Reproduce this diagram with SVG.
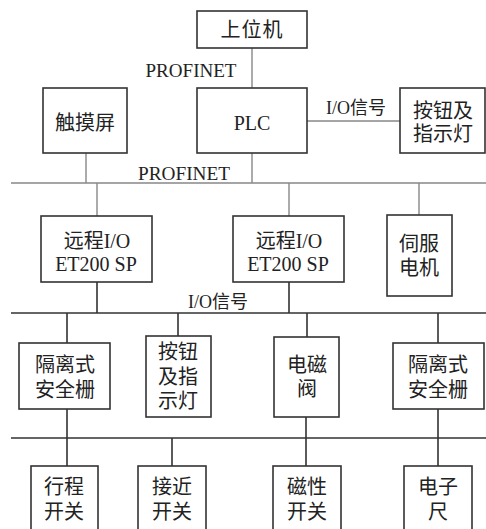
<svg xmlns="http://www.w3.org/2000/svg" width="486" height="529" viewBox="0 0 486 529">
<style>
.box{fill:#fff;stroke:#333;stroke-width:1.6}
.t{font-family:"Liberation Serif","Noto Sans CJK SC",serif;font-size:20px;fill:#222;text-anchor:middle;dominant-baseline:central}
.lbl{font-family:"Liberation Serif","Noto Sans CJK SC",serif;font-size:19px;fill:#222;text-anchor:middle;dominant-baseline:central}
.io{font-family:"Liberation Serif","Noto Sans CJK SC",serif;font-size:18px;fill:#222;text-anchor:middle;dominant-baseline:central}
.g{stroke:#888;stroke-width:1.4;fill:none}
.d{stroke:#333;stroke-width:1.6;fill:none}
</style>
<rect width="486" height="529" fill="#fff"/>
<g id="connectors">
<path class="g" d="M252 48V88M252 153V183M86 153V183M307 121H400M11 183H486M97 183V216M289 183V216M419 183V215"/>
<path class="d" d="M97 282V313M289 282V313M11 313H486M67 313V343M178 313V336M307 313V337M438 313V343"/>
<path class="d" d="M11 438H486M67 409V466M172 438V466M306 417V466M438 409V466"/>
</g>
<g id="labels">
<text class="lbl" x="191" y="70" textLength="91" lengthAdjust="spacingAndGlyphs">PROFINET</text>
<text class="lbl" x="184" y="173" textLength="92" lengthAdjust="spacingAndGlyphs">PROFINET</text>
<text class="io" x="356" y="108">I/O信号</text>
<text class="io" x="218" y="302">I/O信号</text>
</g>
<g id="n_upper"><rect class="box" x="197" y="11" width="110" height="37"/><text class="t" x="252" y="30" letter-spacing="1">上位机</text></g>
<g id="n_touch"><rect class="box" x="43" y="88" width="84" height="65"/><text class="t" x="85" y="123">触摸屏</text></g>
<g id="n_plc"><rect class="box" x="197" y="88" width="110" height="65"/><text class="t" x="252" y="123" font-size="21">PLC</text></g>
<g id="n_btn1"><rect class="box" x="400" y="88" width="85" height="65"/><text class="t" x="443" y="111">按钮及</text><text class="t" x="443" y="134">指示灯</text></g>
<g id="n_rio1"><rect class="box" x="41" y="216" width="111" height="66"/><text class="t" x="97" y="241">远程I/O</text><text class="t" x="96" y="264" font-size="21">ET200 SP</text></g>
<g id="n_rio2"><rect class="box" x="233" y="216" width="111" height="66"/><text class="t" x="289" y="241">远程I/O</text><text class="t" x="288" y="264" font-size="21">ET200 SP</text></g>
<g id="n_servo"><rect class="box" x="387" y="215" width="65" height="81"/><text class="t" x="419" y="244">伺服</text><text class="t" x="419" y="268">电机</text></g>
<g id="n_bar1"><rect class="box" x="19" y="343" width="91" height="66"/><text class="t" x="65" y="365">隔离式</text><text class="t" x="65" y="390">安全栅</text></g>
<g id="n_btn2"><rect class="box" x="146" y="336" width="65" height="81"/><text class="t" x="178" y="352">按钮</text><text class="t" x="178" y="377">及指</text><text class="t" x="178" y="401">示灯</text></g>
<g id="n_valve"><rect class="box" x="274" y="337" width="65" height="80"/><text class="t" x="307" y="365">电磁</text><text class="t" x="307" y="389">阀</text></g>
<g id="n_bar2"><rect class="box" x="393" y="343" width="91" height="66"/><text class="t" x="438" y="365">隔离式</text><text class="t" x="438" y="390">安全栅</text></g>
<g id="n_travel"><rect class="box" x="31" y="466" width="67" height="80"/><text class="t" x="64" y="487">行程</text><text class="t" x="64" y="512">开关</text></g>
<g id="n_prox"><rect class="box" x="138" y="466" width="68" height="80"/><text class="t" x="172" y="487">接近</text><text class="t" x="172" y="512">开关</text></g>
<g id="n_mag"><rect class="box" x="273" y="466" width="68" height="80"/><text class="t" x="307" y="487">磁性</text><text class="t" x="307" y="512">开关</text></g>
<g id="n_scale"><rect class="box" x="404" y="466" width="68" height="80"/><text class="t" x="438" y="487">电子</text><text class="t" x="438" y="512">尺</text></g>
</svg>
